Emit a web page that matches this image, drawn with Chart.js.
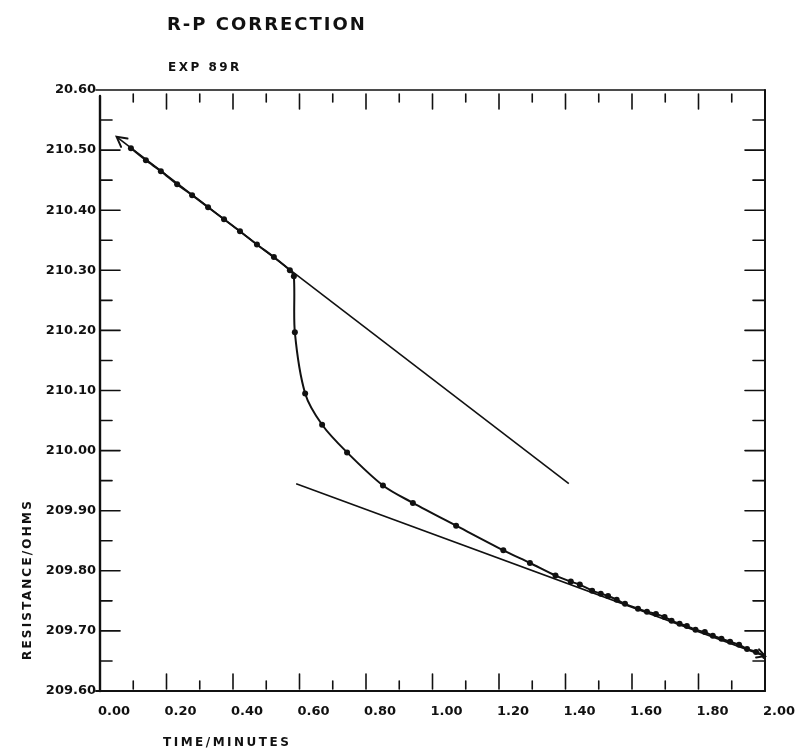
<!DOCTYPE html>
<html lang="en">
<head>
<meta charset="UTF-8">
<title>R-P Correction</title>
<script src="https://cdn.jsdelivr.net/npm/chart.js@4/dist/chart.umd.min.js"></script>
<style>
  body { margin: 0; background: #fff; }
  #wrap { width: 799px; height: 754px; }
</style>
</head>
<body>
<div id="wrap"><canvas id="rpChart" width="799" height="754"></canvas></div>
<script>
// readings taken off the plot (time in minutes, resistance in ohms)
const timeMin = [0.093, 0.138, 0.183, 0.232, 0.277, 0.325, 0.373, 0.421, 0.472, 0.523, 0.571, 0.583,
  0.586, 0.617, 0.668, 0.743, 0.851, 0.941, 1.071, 1.213, 1.293, 1.370,
  1.416, 1.443, 1.480, 1.506, 1.528, 1.554, 1.579, 1.618, 1.645, 1.672, 1.698, 1.719, 1.743,
  1.765, 1.791, 1.819, 1.843, 1.869, 1.895, 1.922, 1.946, 1.973, 2.000];
const resistance = [210.503, 210.483, 210.465, 210.443, 210.425, 210.405, 210.385, 210.365, 210.343, 210.322, 210.300, 210.290,
  210.197, 210.095, 210.043, 209.997, 209.942, 209.913, 209.875, 209.834, 209.813, 209.792,
  209.782, 209.777, 209.767, 209.762, 209.758, 209.752, 209.745, 209.737, 209.732, 209.728, 209.723, 209.717, 209.712,
  209.708, 209.702, 209.698, 209.692, 209.687, 209.682, 209.677, 209.670, 209.665, 209.658];

// the two extrapolated straight lines
const upperFitTime = [0.05, 1.41];
const upperFitOhms = [210.522, 209.945];
const lowerFitTime = [0.59, 2.00];
const lowerFitOhms = [209.945, 209.658];

const xTickLabels = ['0.00', '0.20', '0.40', '0.60', '0.80', '1.00', '1.20', '1.40', '1.60', '1.80', '2.00'];
const yTickLabels = ['209.60', '209.70', '209.80', '209.90', '210.00', '210.10', '210.20', '210.30', '210.40', '210.50', '20.60'];

const toPoints = (xs, ys) => xs.map((x, i) => ({ x: x, y: ys[i] }));
const ink = '#111';
const tickFont = { family: 'DejaVu Sans', size: 13, weight: 'bold' };

function arrowHead(ctx, fx, fy, tx, ty, size) {
  const a = Math.atan2(ty - fy, tx - fx);
  ctx.beginPath();
  ctx.moveTo(tx - size * Math.cos(a - 0.5), ty - size * Math.sin(a - 0.5));
  ctx.lineTo(tx, ty);
  ctx.lineTo(tx - size * Math.cos(a + 0.5), ty - size * Math.sin(a + 0.5));
  ctx.stroke();
}

// frame with inward ticks, arrows and the lettering
const paperPlugin = {
  id: 'paperPlugin',
  afterDraw(chart) {
    const { ctx, chartArea: { left, right, top, bottom } } = chart;
    const xs = chart.scales.x, ys = chart.scales.y;
    ctx.save();
    ctx.strokeStyle = ink;
    ctx.lineCap = 'round';

    // frame
    ctx.lineWidth = 1.6;
    ctx.beginPath(); ctx.moveTo(left - 4, top); ctx.lineTo(right, top); ctx.stroke();
    ctx.lineWidth = 2.4;
    ctx.beginPath(); ctx.moveTo(left, top + 6); ctx.lineTo(left, bottom); ctx.stroke();
    ctx.lineWidth = 2;
    ctx.beginPath(); ctx.moveTo(left - 4, bottom); ctx.lineTo(right, bottom); ctx.stroke();
    ctx.beginPath(); ctx.moveTo(right, top); ctx.lineTo(right, bottom); ctx.stroke();

    // ticks on left and right, every 0.05 ohm
    ctx.lineWidth = 1.6;
    for (let i = 1; i < 20; i++) {
      const py = ys.getPixelForValue(209.6 + i * 0.05);
      const len = i % 2 === 0 ? 20 : 12;
      ctx.beginPath(); ctx.moveTo(left, py); ctx.lineTo(left + len, py); ctx.stroke();
      ctx.beginPath(); ctx.moveTo(right, py); ctx.lineTo(right - len, py); ctx.stroke();
    }
    // ticks on top and bottom, every 0.1 min
    for (let i = 1; i < 20; i++) {
      const px = xs.getPixelForValue(i * 0.1);
      const len = i % 2 === 0 ? 15 : 8;
      ctx.beginPath(); ctx.moveTo(px, top + 4); ctx.lineTo(px, top + 4 + len); ctx.stroke();
      ctx.beginPath(); ctx.moveTo(px, bottom - 2); ctx.lineTo(px, bottom - 2 - len); ctx.stroke();
    }

    // arrows at the ends of the fitted lines
    ctx.lineWidth = 2;
    arrowHead(ctx,
      xs.getPixelForValue(upperFitTime[1]), ys.getPixelForValue(upperFitOhms[1]),
      xs.getPixelForValue(upperFitTime[0]), ys.getPixelForValue(upperFitOhms[0]), 11);
    arrowHead(ctx,
      xs.getPixelForValue(lowerFitTime[0]), ys.getPixelForValue(lowerFitOhms[0]),
      xs.getPixelForValue(lowerFitTime[1]), ys.getPixelForValue(lowerFitOhms[1]), 9);

    // lettering
    ctx.fillStyle = ink;
    ctx.textBaseline = 'middle';
    ctx.textAlign = 'left';
    ctx.font = 'bold 18px "DejaVu Sans"';
    ctx.letterSpacing = '2px';
    ctx.fillText('R-P CORRECTION', 167, 25);
    ctx.font = 'bold 12px "DejaVu Sans"';
    ctx.letterSpacing = '2.5px';
    ctx.fillText('EXP 89R', 168, 68);
    ctx.fillText('TIME/MINUTES', 163, 743);
    ctx.translate(28, 660);
    ctx.rotate(-Math.PI / 2);
    ctx.letterSpacing = '2.2px';
    ctx.fillText('RESISTANCE/OHMS', 0, 0);
    ctx.restore();
  }
};

new Chart(document.getElementById('rpChart'), {
  type: 'line',
  data: {
    datasets: [
      {
        label: 'measured',
        data: toPoints(timeMin, resistance),
        borderColor: ink,
        backgroundColor: ink,
        borderWidth: 2,
        pointRadius: 3,
        pointBorderWidth: 0,
        tension: 0.3
      },
      {
        label: 'upper fit',
        data: toPoints(upperFitTime, upperFitOhms),
        borderColor: ink,
        borderWidth: 1.6,
        pointRadius: 0
      },
      {
        label: 'lower fit',
        data: toPoints(lowerFitTime, lowerFitOhms),
        borderColor: ink,
        borderWidth: 1.6,
        pointRadius: 0
      }
    ]
  },
  options: {
    responsive: false,
    animation: false,
    layout: { padding: { top: 90, right: 34, left: 0, bottom: 0 } },
    plugins: { legend: { display: false }, tooltip: { enabled: false } },
    scales: {
      x: {
        type: 'linear',
        min: 0,
        max: 2,
        grid: { display: false, drawTicks: false },
        border: { display: false },
        ticks: {
          stepSize: 0.2,
          autoSkip: false,
          maxRotation: 0,
          padding: 13,
          labelOffset: 14,
          color: ink,
          font: tickFont,
          callback: (v, i) => xTickLabels[i]
        },
        afterFit: (s) => { s.height = 63; }
      },
      y: {
        type: 'linear',
        min: 209.6,
        max: 210.6,
        grid: { display: false, drawTicks: false },
        border: { display: false },
        ticks: {
          stepSize: 0.1,
          autoSkip: false,
          padding: 4,
          color: ink,
          font: tickFont,
          callback: (v, i) => yTickLabels[i]
        },
        afterFit: (s) => { s.width = 100; }
      }
    }
  },
  plugins: [paperPlugin]
});
</script>
</body>
</html>
